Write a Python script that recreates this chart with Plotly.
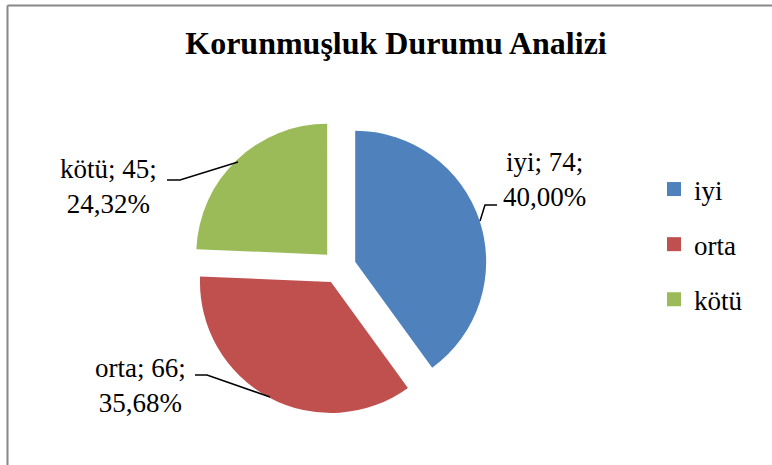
import plotly.graph_objects as go

# ---- data ----
categories = ["iyi", "orta", "kötü"]
counts = [74, 66, 45]
colors = ["#4F81BD", "#C0504D", "#9BBB59"]
title_text = "Korunmuşluk Durumu Analizi"

W, H = 772, 465


def fx(x):
    return x / W


def fy(y):
    return 1 - y / H


total = sum(counts)
label_texts = []
for cat, v in zip(categories, counts):
    pct = f"{v / total * 100:.2f}".replace(".", ",")
    label_texts.append(f"{cat}; {v};<br>{pct}%")

FONT = "Liberation Serif"

fig = go.Figure()
fig.add_trace(go.Pie(
    labels=categories, values=counts, sort=False, direction="clockwise",
    rotation=0, pull=[0.13, 0.13, 0.13],
    marker=dict(colors=colors, line=dict(width=0)),
    textinfo="none", hoverinfo="label+value+percent", showlegend=False,
    domain=dict(x=[fx(191), fx(487)], y=[fy(415), fy(119)]),
))

# legend entries (one per category, so gaps between entries can be set)
for cat, col in zip(categories, colors):
    fig.add_trace(go.Scatter(
        x=[None], y=[None], mode="markers", name=cat, legendgroup=cat,
        marker=dict(symbol="square", size=14, color=col), showlegend=True,
    ))

# label placement (pixel centres) and leader lines
label_pos = {"iyi": (544, 179), "orta": (140, 385), "kötü": (108, 187)}
leaders = {
    "iyi": [(480, 221), (485, 205), (497, 205)],
    "orta": [(195, 375), (207, 375), (270, 397)],
    "kötü": [(167, 180), (180, 180), (238, 162)],
}

annotations = []
shapes = []
for cat, txt in zip(categories, label_texts):
    cx, cy = label_pos[cat]
    annotations.append(dict(
        x=fx(cx), y=fy(cy), xref="paper", yref="paper", text=txt,
        showarrow=False, xanchor="center", yanchor="middle", align="center",
        font=dict(family=FONT, size=27, color="black"),
    ))
    pts = leaders[cat]
    path = "M " + " L ".join(f"{fx(x)},{fy(y)}" for x, y in pts)
    shapes.append(dict(type="path", xref="paper", yref="paper", path=path,
                       line=dict(color="black", width=1.5)))

# outer chart-area frame (left and top edges visible)
shapes.append(dict(type="line", xref="paper", yref="paper",
                   x0=fx(7.5), x1=fx(7.5), y0=fy(5.5), y1=-0.1,
                   line=dict(color="#888888", width=2)))
shapes.append(dict(type="line", xref="paper", yref="paper",
                   x0=fx(7.5), x1=1.1, y0=fy(5.5), y1=fy(5.5),
                   line=dict(color="#888888", width=2)))

fig.update_layout(
    width=W, height=H,
    margin=dict(l=0, r=0, t=0, b=0),
    paper_bgcolor="white", plot_bgcolor="white",
    title=dict(text=f"<b>{title_text}</b>", x=fx(396), xanchor="center",
               y=fy(43), yanchor="middle",
               font=dict(family=FONT, size=32, color="black")),
    xaxis=dict(visible=False), yaxis=dict(visible=False),
    legend=dict(x=fx(654), y=fy(165), xanchor="left", yanchor="top",
                font=dict(family=FONT, size=27, color="black"),
                tracegroupgap=17, bgcolor="rgba(0,0,0,0)"),
    annotations=annotations, shapes=shapes,
)

fig.write_html("out.html", config={"displayModeBar": False},
               post_script="document.body.style.margin='0px';")
